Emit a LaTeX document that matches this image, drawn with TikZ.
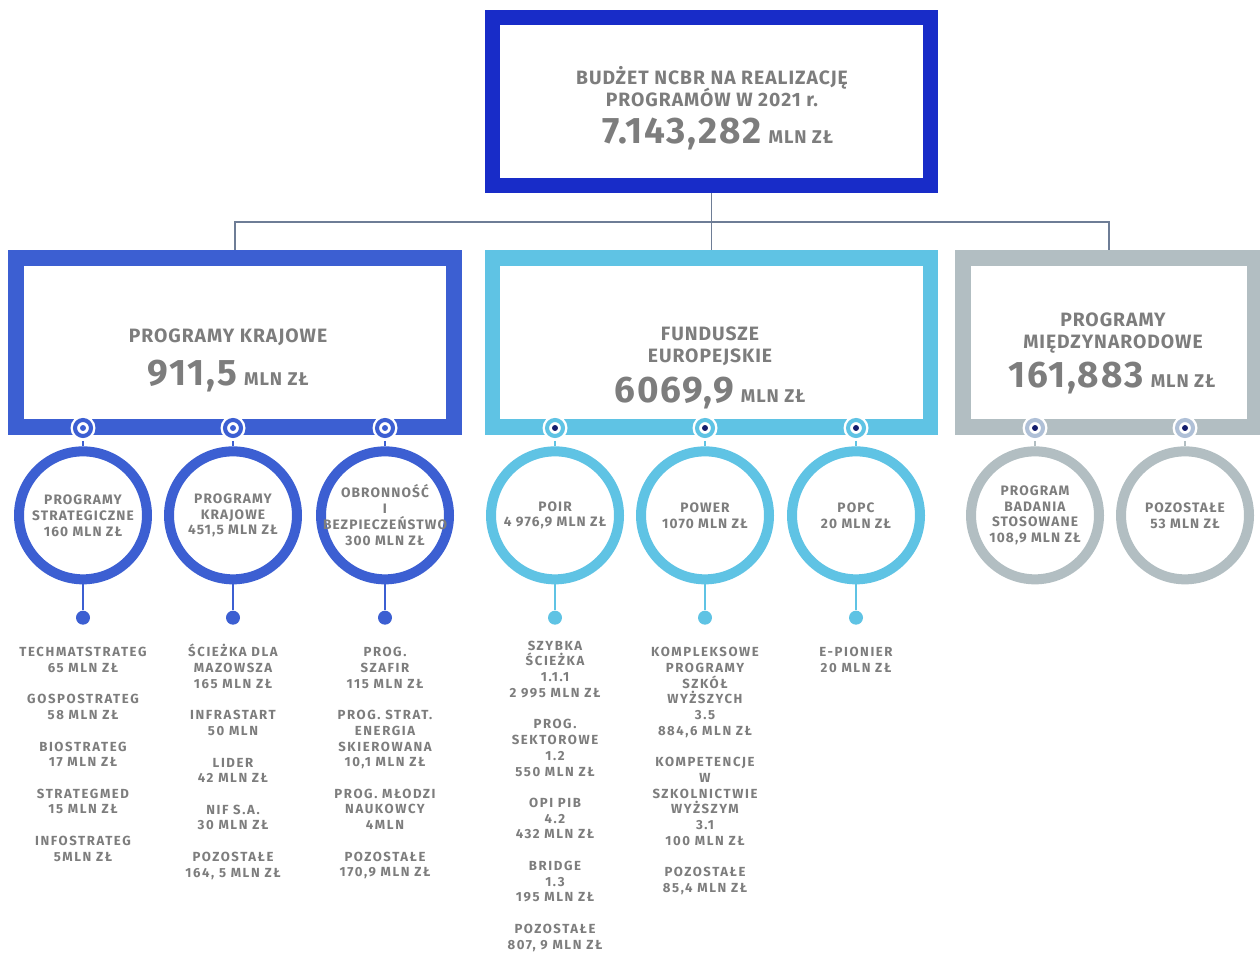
\documentclass[tikz,border=0pt]{standalone}
\usepackage{fontspec}
\setsansfont{Fira Sans}
\usetikzlibrary{positioning}

\definecolor{ncbrblue}{RGB}{24,44,200}
\definecolor{krajblue}{RGB}{60,95,210}
\definecolor{eublue}{RGB}{95,195,228}
\definecolor{intgray}{RGB}{178,190,194}
\definecolor{textgray}{RGB}{125,125,125}
\definecolor{linegray}{RGB}{110,125,150}
\definecolor{navy}{RGB}{20,30,110}
\definecolor{hubgray}{RGB}{175,192,215}

\newcommand{\tightlines}{\lineskiplimit=-20pt\relax}

\tikzset{
  budget/.style={draw=ncbrblue, line width=8.5pt, inner sep=0pt,
    minimum width=8.76cm, minimum height=3.36cm},
  group/.style={draw=#1, line width=9pt, inner sep=0pt, minimum height=3.38cm},
  hub/.style 2 args={circle, fill=white, inner sep=0pt, minimum size=0.5cm,
    path picture={
      \draw[#1, line width=2.3pt] (path picture bounding box.center) circle (0.16cm);
      \fill[#2] (path picture bounding box.center) circle (1.7pt);}},
  program/.style={circle, draw=#1, line width=5.7pt, inner sep=0pt, minimum size=2.56cm},
  leaf/.style={circle, fill=#1, inner sep=0pt, minimum size=0.28cm},
  stem/.style={draw=#1, line width=1.6pt},
  tree/.style={draw=linegray, line width=0.8pt},
  head/.style={text=textgray, align=center,
    font={\sffamily\bfseries\fontsize{11}{12.5}\selectfont\addfontfeature{LetterSpace=5}\tightlines}},
  sum/.style={text=textgray, font=\sffamily\bfseries, anchor=base, inner sep=0pt},
  inring/.style={text=textgray, align=center,
    font={\sffamily\bfseries\fontsize{7.8}{9.1}\selectfont\addfontfeature{LetterSpace=8}\tightlines}},
  list/.style={text=textgray, align=center, inner sep=0pt,
    font={\sffamily\bfseries\fontsize{7.5}{8.95}\selectfont\addfontfeature{LetterSpace=12}\tightlines}},
}
\newcommand{\mlnzl}[1]{{\fontsize{21}{21}\selectfont\addfontfeature{LetterSpace=5}#1}\hspace{4pt}{\fontsize{10.5}{10.5}\selectfont\addfontfeature{LetterSpace=5}MLN ZŁ}}

\begin{document}
\begin{tikzpicture}[x=0.02cm, y=-0.02cm]
  \useasboundingbox (0,0) rectangle (1260,953);

  % top box and the three groups
  \node[budget] (budget) at (711.5,101.5) {};
  \node[group=krajblue, minimum width=8.76cm] (krajowe)  at (235,342.5)   {};
  \node[group=eublue,   minimum width=8.76cm] (fundusze) at (711.5,342.5) {};
  \node[group=intgray,  minimum width=5.84cm] (miedzy)   at (1109,342.5)  {};

  \node[head] (budgetname) at (712,87) {BUDŻET NCBR NA REALIZACJĘ\\PROGRAMÓW W 2021 r.};
  \node[sum]  (budgetsum)  at (718,143) {\mlnzl{7.143,282}};
  \node[head] (krajname)   at (228,337) {PROGRAMY KRAJOWE};
  \node[sum]  (krajsum)    at (228,385) {\mlnzl{911,5}};
  \node[head] (euname)     at (710,346.5) {FUNDUSZE\\EUROPEJSKIE};
  \node[sum]  (eusum)      at (710,402) {\mlnzl{6069,9}};
  \node[head] (intname)    at (1113,333) {PROGRAMY\\MIĘDZYNARODOWE};
  \node[sum]  (intsum)     at (1112,387) {\mlnzl{161,883}};

  \coordinate (split) at (711.5,222);
  \draw[tree] (budget.south) -- (split);
  \draw[tree] (krajowe.north) |- (split) -| (miedzy.north);
  \draw[tree] (split) -- (fundusze.north);

  % hubs on the lower edges
  \node[hub={krajblue}{krajblue}] (hubstrat) at (83,428)  {};
  \node[hub={krajblue}{krajblue}] (hubkraj)  at (233,428) {};
  \node[hub={krajblue}{krajblue}] (hubobr)   at (385,428) {};
  \node[hub={eublue}{navy}]       (hubpoir)  at (555,428) {};
  \node[hub={eublue}{navy}]       (hubpower) at (705,428) {};
  \node[hub={eublue}{navy}]       (hubpopc)  at (856,428) {};
  \node[hub={hubgray}{navy}]      (hubbad)   at (1035,428) {};
  \node[hub={hubgray}{navy}]      (hubrest)  at (1185,428) {};

  % programme circles
  \node[program=krajblue, below=0.11cm of hubstrat] (strat) {};
  \node[program=krajblue, below=0.11cm of hubkraj]  (kraj)  {};
  \node[program=krajblue, below=0.11cm of hubobr]   (obr)   {};
  \node[program=eublue,   below=0.11cm of hubpoir]  (poir)  {};
  \node[program=eublue,   below=0.11cm of hubpower] (power) {};
  \node[program=eublue,   below=0.11cm of hubpopc]  (popc)  {};
  \node[program=intgray,  below=0.11cm of hubbad]   (bad)   {};
  \node[program=intgray,  below=0.11cm of hubrest]  (rest)  {};

  \draw[stem=krajblue] (hubstrat) -- (strat);
  \draw[stem=krajblue] (hubkraj) -- (kraj);
  \draw[stem=krajblue] (hubobr) -- (obr);
  \draw[stem=eublue] (hubpoir) -- (poir);
  \draw[stem=eublue] (hubpower) -- (power);
  \draw[stem=eublue] (hubpopc) -- (popc);
  \draw[stem=intgray] (hubbad) -- (bad);
  \draw[stem=intgray] (hubrest) -- (rest);

  \node[inring] (strattext) at (strat) {PROGRAMY\\STRATEGICZNE\\160 MLN ZŁ};
  \node[inring] (krajtext)  at (kraj)  {PROGRAMY\\KRAJOWE\\451,5 MLN ZŁ};
  \node[inring] (obrtext)   at (obr)   {OBRONNOŚĆ\\I\\BEZPIECZEŃSTWO\\300 MLN ZŁ};
  \node[inring] (poirtext)  at (poir)  {POIR\\4 976,9 MLN ZŁ};
  \node[inring] (powertext) at (power) {POWER\\1070 MLN ZŁ};
  \node[inring] (popctext)  at (popc)  {POPC\\20 MLN ZŁ};
  \node[inring] (badtext)   at (bad)   {PROGRAM\\BADANIA\\STOSOWANE\\108,9 MLN ZŁ};
  \node[inring] (resttext)  at (rest)  {POZOSTAŁE\\53 MLN ZŁ};

  % leaves and their lists
  \node[leaf=krajblue, below=0.52cm of strat] (stratleaf) {};
  \node[leaf=krajblue, below=0.52cm of kraj]  (krajleaf)  {};
  \node[leaf=krajblue, below=0.52cm of obr]   (obrleaf)   {};
  \node[leaf=eublue,   below=0.52cm of poir]  (poirleaf)  {};
  \node[leaf=eublue,   below=0.52cm of power] (powerleaf) {};
  \node[leaf=eublue,   below=0.52cm of popc]  (popcleaf)  {};
  \draw[stem=krajblue] (strat) -- (stratleaf);
  \draw[stem=krajblue] (kraj) -- (krajleaf);
  \draw[stem=krajblue] (obr) -- (obrleaf);
  \draw[stem=eublue] (poir) -- (poirleaf);
  \draw[stem=eublue] (power) -- (powerleaf);
  \draw[stem=eublue] (popc) -- (popcleaf);

  \node[list, below=0.44cm of stratleaf] (stratlist) {TECHMATSTRATEG\\65 MLN ZŁ\\[8.95pt]
    GOSPOSTRATEG\\58 MLN ZŁ\\[8.95pt]BIOSTRATEG\\17 MLN ZŁ\\[8.95pt]
    STRATEGMED\\15 MLN ZŁ\\[8.95pt]INFOSTRATEG\\5MLN ZŁ};
  \node[list, below=0.38cm of krajleaf] (krajlist) {ŚCIEŻKA DLA\\MAZOWSZA\\165 MLN ZŁ\\[8.95pt]
    INFRASTART\\50 MLN\\[8.95pt]LIDER\\42 MLN ZŁ\\[8.95pt]
    NIF S.A.\\30 MLN ZŁ\\[8.95pt]POZOSTAŁE\\164, 5 MLN ZŁ};
  \node[list, below=0.44cm of obrleaf] (obrlist) {PROG.\\SZAFIR\\115 MLN ZŁ\\[8.95pt]
    PROG. STRAT.\\ENERGIA\\SKIEROWANA\\10,1 MLN ZŁ\\[8.95pt]
    PROG. MŁODZI\\NAUKOWCY\\4MLN\\[8.95pt]POZOSTAŁE\\170,9 MLN ZŁ};
  \node[list, below=0.31cm of poirleaf] (poirlist) {SZYBKA\\ŚCIEŻKA\\1.1.1\\2 995 MLN ZŁ\\[8.95pt]
    PROG.\\SEKTOROWE\\1.2\\550 MLN ZŁ\\[8.95pt]OPI PIB\\4.2\\432 MLN ZŁ\\[8.95pt]
    BRIDGE\\1.3\\195 MLN ZŁ\\[8.95pt]POZOSTAŁE\\807, 9 MLN ZŁ};
  \node[list, below=0.44cm of powerleaf] (powerlist) {KOMPLEKSOWE\\PROGRAMY\\SZKÓŁ\\WYŻSZYCH\\3.5\\884,6 MLN ZŁ\\[8.95pt]
    KOMPETENCJE\\W\\SZKOLNICTWIE\\WYŻSZYM\\3.1\\100 MLN ZŁ\\[8.95pt]
    POZOSTAŁE\\85,4 MLN ZŁ};
  \node[list, below=0.44cm of popcleaf] (popclist) {E-PIONIER\\20 MLN ZŁ};
\end{tikzpicture}
\end{document}
